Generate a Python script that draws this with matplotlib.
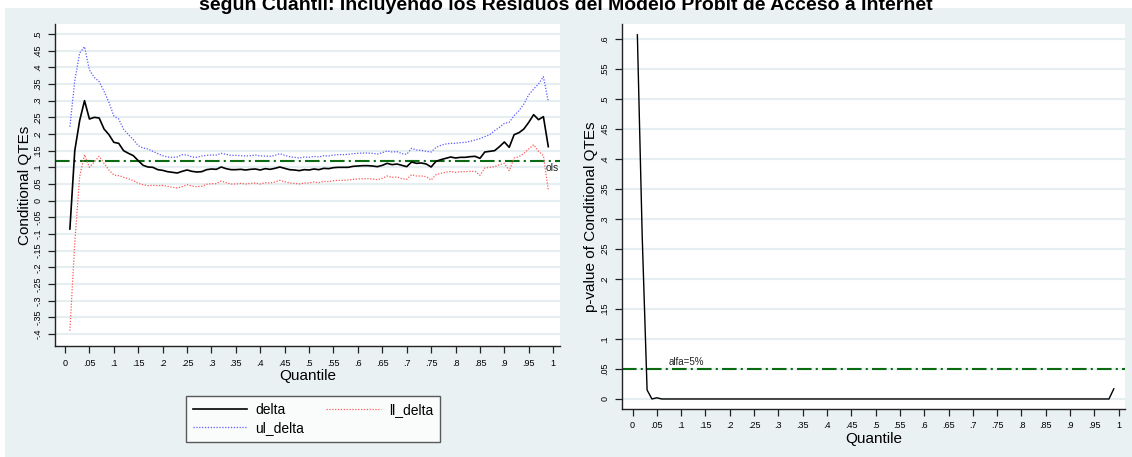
import matplotlib
matplotlib.use("Agg")
import matplotlib.pyplot as plt
from matplotlib.patches import Rectangle

plt.rcParams['font.family'] = ['Liberation Sans', 'DejaVu Sans']

# quantiles 0.01 .. 0.99
quantiles = [round(0.01 * i, 2) for i in range(1, 100)]

delta = [-0.085, 0.150, 0.240, 0.300, 0.245, 0.250, 0.248, 0.215, 0.198, 0.175,
         0.172, 0.150, 0.142, 0.135, 0.120, 0.106, 0.101, 0.100, 0.093, 0.091,
         0.087, 0.085, 0.083, 0.088, 0.092, 0.088, 0.086, 0.087, 0.093, 0.095,
         0.094, 0.101, 0.096, 0.093, 0.093, 0.094, 0.092, 0.094, 0.095, 0.092,
         0.096, 0.094, 0.097, 0.101, 0.097, 0.093, 0.092, 0.090, 0.093, 0.092,
         0.095, 0.093, 0.097, 0.096, 0.099, 0.100, 0.100, 0.100, 0.103, 0.104,
         0.105, 0.105, 0.104, 0.102, 0.106, 0.112, 0.108, 0.110, 0.106, 0.102,
         0.116, 0.112, 0.113, 0.110, 0.101, 0.118, 0.123, 0.127, 0.131, 0.128,
         0.130, 0.130, 0.132, 0.133, 0.127, 0.146, 0.148, 0.150, 0.162, 0.176,
         0.160, 0.198, 0.204, 0.215, 0.235, 0.258, 0.243, 0.252, 0.162]

ul_delta = [0.222, 0.360, 0.443, 0.462, 0.392, 0.370, 0.357, 0.328, 0.295, 0.254,
            0.245, 0.214, 0.198, 0.183, 0.165, 0.158, 0.155, 0.148, 0.141, 0.135,
            0.131, 0.130, 0.131, 0.138, 0.137, 0.131, 0.130, 0.134, 0.136, 0.137,
            0.137, 0.142, 0.139, 0.136, 0.136, 0.135, 0.134, 0.135, 0.137, 0.134,
            0.134, 0.133, 0.136, 0.141, 0.136, 0.132, 0.130, 0.128, 0.131, 0.130,
            0.133, 0.131, 0.135, 0.134, 0.137, 0.138, 0.138, 0.139, 0.141, 0.142,
            0.143, 0.143, 0.142, 0.140, 0.144, 0.149, 0.146, 0.147, 0.141, 0.139,
            0.157, 0.152, 0.151, 0.148, 0.146, 0.160, 0.166, 0.170, 0.172, 0.172,
            0.174, 0.175, 0.178, 0.182, 0.186, 0.192, 0.198, 0.210, 0.220, 0.232,
            0.235, 0.255, 0.270, 0.290, 0.318, 0.335, 0.350, 0.372, 0.297]

ll_delta = [-0.390, -0.125, 0.072, 0.138, 0.100, 0.116, 0.133, 0.112, 0.092, 0.077,
            0.075, 0.070, 0.066, 0.060, 0.052, 0.048, 0.045, 0.046, 0.045, 0.046,
            0.043, 0.040, 0.038, 0.042, 0.048, 0.044, 0.042, 0.043, 0.049, 0.051,
            0.051, 0.059, 0.054, 0.050, 0.050, 0.052, 0.050, 0.052, 0.053, 0.050,
            0.054, 0.053, 0.056, 0.061, 0.057, 0.053, 0.052, 0.050, 0.053, 0.053,
            0.056, 0.054, 0.058, 0.057, 0.060, 0.061, 0.061, 0.062, 0.064, 0.065,
            0.066, 0.066, 0.065, 0.063, 0.067, 0.074, 0.070, 0.071, 0.066, 0.064,
            0.078, 0.074, 0.074, 0.072, 0.062, 0.078, 0.082, 0.085, 0.088, 0.085,
            0.087, 0.087, 0.088, 0.088, 0.076, 0.098, 0.100, 0.102, 0.108, 0.112,
            0.090, 0.128, 0.132, 0.142, 0.155, 0.168, 0.148, 0.135, 0.032]

pvalue = [0.607, 0.270, 0.015, 0.000, 0.002] + [0.0] * 93 + [0.017]

ols = 0.12
alfa = 0.05

title = "según Cuantil: Incluyendo los Residuos del Modelo Probit de Acceso a Internet"

x_ticks = [round(0.05 * i, 2) for i in range(21)]
x_labels = ["0"] + [("%g" % t).lstrip("0") for t in x_ticks[1:-1]] + ["1"]


def stata_lab(v):
    if abs(v) < 1e-9:
        return "0"
    s = "%g" % v
    return s.replace("0.", ".")


left_yticks = [round(-0.4 + 0.05 * i, 2) for i in range(19)]
right_yticks = [round(0.05 * i, 2) for i in range(13)]

# colours
bg = '#e9f1f3'
grid_c = '#e6eef1'
green = '#0b6b12'

W, H = 1132, 457
fig = plt.figure(figsize=(W / 100, H / 100), dpi=100, facecolor='white')
fig.patches.append(Rectangle((5 / W, 0), 1 - 5 / W, 1 - 8 / H, transform=fig.transFigure,
                             facecolor=bg, edgecolor='none', zorder=-10))

fig.text(0.5, 1 - 10 / H, title, ha='center', va='baseline', fontsize=14, weight='bold')


def style(ax, yticks):
    ax.set_facecolor('white')
    for s in ['top', 'right']:
        ax.spines[s].set_visible(False)
    for s in ['left', 'bottom']:
        ax.spines[s].set_color('#222222')
        ax.spines[s].set_linewidth(1.0)
    ax.set_xticks(x_ticks)
    ax.set_xticklabels(x_labels, fontsize=6.5)
    ax.set_yticks(yticks)
    ax.set_yticklabels([stata_lab(v) for v in yticks], fontsize=6.5, rotation=90, va='center')
    ax.tick_params(direction='out', length=5, width=0.9, color='#222222', pad=4)
    for v in yticks:
        ax.axhline(v, color=grid_c, lw=1.6, zorder=0)
    ax.set_xlabel("Quantile", fontsize=11, labelpad=1)


# left panel
ax1 = fig.add_axes([55 / W, (H - 346) / H, (560 - 55) / W, (346 - 24) / H])
style(ax1, left_yticks)
ax1.set_xlim(-0.0205, 1.014)
ax1.set_ylim(-0.436, 0.53)
ax1.axhline(ols, color=green, lw=1.5, linestyle=(0, (7, 2, 1, 2)), zorder=2)
ax1.text(0.985, ols - 0.008, "ols", fontsize=7.5, ha='left', va='top', color='#222222')
l1, = ax1.plot(quantiles, delta, color='black', lw=1.2, zorder=4)
l2, = ax1.plot(quantiles, ll_delta, color='#ff5a5a', lw=0.9, linestyle=(0, (1, 1.3)), zorder=3)
l3, = ax1.plot(quantiles, ul_delta, color='#5a5aff', lw=0.9, linestyle=(0, (1, 1.3)), zorder=3)
ax1.set_ylabel("Conditional QTEs", fontsize=11, labelpad=1)

leg = ax1.legend([l1, l3, l2], ["delta", "ul_delta", "ll_delta"], ncol=2,
                 loc='upper left', bbox_to_anchor=(179 / W, 1 - 389 / H),
                 bbox_transform=fig.transFigure, fontsize=10, frameon=True,
                 fancybox=False, handlelength=3.9, columnspacing=1.6,
                 borderpad=0.5, labelspacing=0.3, handletextpad=0.6)
leg.get_frame().set_edgecolor('#333333')
leg.get_frame().set_linewidth(1.0)

# right panel
ax2 = fig.add_axes([622 / W, (H - 409) / H, (1125 - 622) / W, (409 - 24) / H])
style(ax2, right_yticks)
ax2.set_xlim(-0.0216, 1.013)
ax2.set_ylim(-0.0167, 0.625)
ax2.axhline(alfa, color=green, lw=1.5, linestyle=(0, (7, 2, 1, 2)), zorder=2)
ax2.text(0.075, alfa + 0.003, "alfa=5%", fontsize=7, ha='left', va='bottom', color='#222222')
ax2.plot(quantiles, pvalue, color='black', lw=1.0, zorder=4)
ax2.set_ylabel("p-value of Conditional QTEs", fontsize=11, labelpad=2)

fig.savefig("out.png", dpi=100, facecolor=fig.get_facecolor())
